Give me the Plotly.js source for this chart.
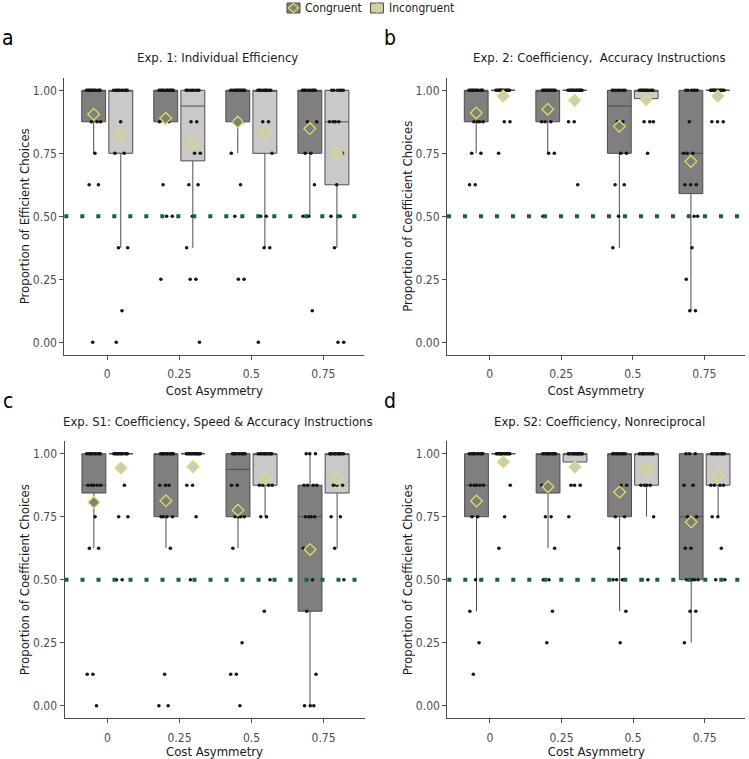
<!DOCTYPE html>
<html>
<head>
<meta charset="utf-8">
<script src="https://cdn.plot.ly/plotly-3.0.1.min.js"></script>
<style>html,body{margin:0;padding:0;background:#fff;}#chart{width:749px;height:759px;}</style>
</head>
<body>
<div id="chart"></div>
<script>
// ---------------- DATA ----------------
const costs = [0, 0.25, 0.5, 0.75];
const costLabels = ['0', '0.25', '0.5', '0.75'];
const panelLetters = ['a', 'b', 'c', 'd'];
const panelTitles = [
  'Exp. 1: Individual Efficiency',
  'Exp. 2: Coefficiency,\u00a0 Accuracy Instructions',
  'Exp. S1: Coefficiency, Speed & Accuracy Instructions',
  'Exp. S2: Coefficiency, Nonreciprocal'
];
const yTitles = [
  'Proportion of Efficient Choices',
  'Proportion of Coefficient Choices',
  'Proportion of Coefficient Choices',
  'Proportion of Coefficient Choices'
];
const xTitle = 'Cost Asymmetry';
const groupNames = ['Congruent', 'Incongruent'];

// box statistics per panel (a, b, c, d), per cost level
const conQ1   = [[0.875, 0.875, 0.875, 0.75], [0.875, 0.875, 0.75, 0.59], [0.844, 0.75, 0.75, 0.375], [0.75, 0.844, 0.75, 0.5]];
const conMed  = [[1, 1, 1, 1], [1, 1, 0.9375, 0.75], [0.875, 1, 0.9375, 0.75], [0.875, 1, 1, 0.75]];
const conQ3   = [[1, 1, 1, 1], [1, 1, 1, 1], [1, 1, 1, 0.875], [1, 1, 1, 1]];
const conLo   = [[0.75, 0.875, 0.75, 0.5], [0.75, 0.75, 0.375, 0.125], [0.625, 0.625, 0.625, 0], [0.375, 0.625, 0.375, 0.25]];
const conHi   = [[1, 1, 1, 1], [1, 1, 1, 1], [1, 1, 1, 1], [1, 1, 1, 1]];
const conMean = [[0.905, 0.889, 0.874, 0.848], [0.91, 0.925, 0.857, 0.718], [0.807, 0.813, 0.776, 0.62], [0.812, 0.869, 0.848, 0.729]];

const incQ1   = [[0.75, 0.72, 0.75, 0.625], [1, 1, 0.967, 1], [1, 1, 0.875, 0.844], [1, 0.967, 0.875, 0.875]];
const incMed  = [[1, 0.9375, 1, 0.875], [1, 1, 1, 1], [1, 1, 1, 1], [1, 1, 1, 1]];
const incQ3   = [[1, 1, 1, 1], [1, 1, 1, 1], [1, 1, 1, 1], [1, 1, 1, 1]];
const incLo   = [[0.375, 0.375, 0.375, 0.375], [1, 1, 0.967, 1], [1, 1, 0.75, 0.625], [1, 0.967, 0.75, 0.75]];
const incHi   = [[1, 1, 1, 1], [1, 1, 1, 1], [1, 1, 1, 1], [1, 1, 1, 1]];
const incMean = [[0.823, 0.791, 0.833, 0.749], [0.977, 0.96, 0.963, 0.977], [0.943, 0.948, 0.901, 0.901], [0.967, 0.947, 0.937, 0.911]];

// individual participants: [value, count] per cost level
const conDots = [
  [ [[1,12],[0.875,3],[0.75,1],[0.625,2],[0,1]],
    [[1,12],[0.875,3],[0.625,1],[0.5,2],[0.25,1]],
    [[1,12],[0.875,3],[0.75,1],[0.625,1],[0.5,1],[0.25,2]],
    [[1,10],[0.875,2],[0.75,2],[0.625,1],[0.5,2],[0.125,1]] ],
  [ [[1,12],[0.875,4],[0.75,2],[0.625,2]],
    [[1,12],[0.875,3],[0.75,2],[0.5,1]],
    [[1,8],[0.875,2],[0.75,2],[0.625,2],[0.5,1],[0.375,1]],
    [[1,6],[0.875,1],[0.75,3],[0.625,3],[0.5,3],[0.375,1],[0.25,1],[0.125,2]] ],
  [ [[1,10],[0.875,5],[0.75,1],[0.625,2],[0.125,2],[0,1]],
    [[1,10],[0.875,3],[0.75,4],[0.625,1],[0.125,1],[0,2]],
    [[1,10],[0.875,2],[0.75,4],[0.625,1],[0.25,1],[0.125,2],[0,1]],
    [[1,3],[0.875,4],[0.75,4],[0.625,1],[0.5,1],[0.375,1],[0.125,1],[0,3]] ],
  [ [[1,10],[0.875,5],[0.75,2],[0.5,2],[0.375,1],[0.25,1],[0.125,1]],
    [[1,10],[0.875,1],[0.75,2],[0.625,1],[0.5,2],[0.375,1],[0.25,1]],
    [[1,8],[0.875,2],[0.75,2],[0.625,1],[0.5,3],[0.375,1],[0.25,1]],
    [[1,3],[0.875,2],[0.75,2],[0.625,2],[0.5,5],[0.375,2],[0.25,1]] ]
];
const incDots = [
  [ [[1,10],[0.875,1],[0.75,2],[0.375,2],[0.125,1],[0,1]],
    [[1,8],[0.875,2],[0.75,2],[0.625,2],[0.5,1],[0.375,1],[0.25,2],[0,1]],
    [[1,10],[0.875,2],[0.75,1],[0.5,2],[0.375,2],[0,1]],
    [[1,6],[0.875,4],[0.75,1],[0.625,1],[0.5,2],[0.375,1],[0,2]] ],
  [ [[1,14],[0.875,2],[0.75,1]],
    [[1,14],[0.875,2],[0.625,1]],
    [[1,12],[0.875,3],[0.75,1]],
    [[1,14],[0.875,3]] ],
  [ [[1,12],[0.875,1],[0.75,2],[0.5,2]],
    [[1,14],[0.875,2],[0.75,1],[0.5,1]],
    [[1,10],[0.875,4],[0.75,2],[0.5,1],[0.375,1]],
    [[1,10],[0.875,3],[0.75,2],[0.625,1],[0.5,1]] ],
  [ [[1,14],[0.875,1],[0.75,1],[0.625,1]],
    [[1,12],[0.875,3],[0.75,1],[0.5,1]],
    [[1,10],[0.875,4],[0.75,1],[0.5,2]],
    [[1,10],[0.875,4],[0.75,2],[0.625,1],[0.5,2]] ]
];
const chanceLevel = 0.5;

// ---------------- STYLE / LAYOUT ----------------
const W = 749, H = 759;
const FONT = 'Liberation Sans Narrow, Arial Narrow, DejaVu Sans Condensed, sans-serif';
const CON_FILL = '#7f7f7f', INC_FILL = '#c9c9c9', BOX_LINE = '#4d4d4d';
const MEAN_LINE = '#e2dc5c', DOT = '#151515', GREEN = '#1b6531';
const DODGE = 0.047, BOXW = 0.083, JIT = 0.026;
const px = x => x / W, py = y => 1 - y / H;

// pixel geometry of the four panels
const panelX = [[64.3, 364.3], [447, 745], [64.5, 364.5], [447.3, 745.3]];
const panelY = [[77.7, 354.9], [77.7, 354.9], [441.1, 718.3], [441.1, 718.3]];

const traces = [];
const layout = {
  width: W, height: H,
  margin: {l: 0, r: 0, t: 0, b: 0},
  paper_bgcolor: '#fff', plot_bgcolor: '#fff',
  font: {family: FONT, color: '#1a1a1a'},
  showlegend: false,
  boxmode: 'overlay',
  shapes: [], annotations: []
};

function jitterDots(groups, sign, xa, ya) {
  const xs = [], ys = [];
  let k = 0;
  groups.forEach((grp, i) => {
    grp.forEach(([v, n]) => {
      for (let j = 0; j < n; j++) {
        const u = ((k * 0.6180339887 + 0.31) % 1) - 0.5;
        xs.push(costs[i] + sign * DODGE + u * 2 * JIT);
        ys.push(v);
        k++;
      }
    });
  });
  return {type: 'scatter', mode: 'markers', x: xs, y: ys, xaxis: xa, yaxis: ya,
    marker: {size: 3.6, color: DOT}, hoverinfo: 'skip', showlegend: false};
}

for (let p = 0; p < 4; p++) {
  const n = p + 1;
  const xa = 'x' + (n === 1 ? '' : n), ya = 'y' + (n === 1 ? '' : n);
  const xk = 'xaxis' + (n === 1 ? '' : n), yk = 'yaxis' + (n === 1 ? '' : n);
  const grpSpecs = [
    {sign: -1, fill: CON_FILL, q1: conQ1, med: conMed, q3: conQ3, lo: conLo, hi: conHi, mean: conMean, dots: conDots, name: groupNames[0]},
    {sign: 1, fill: INC_FILL, q1: incQ1, med: incMed, q3: incQ3, lo: incLo, hi: incHi, mean: incMean, dots: incDots, name: groupNames[1]}
  ];
  grpSpecs.forEach(g => {
    traces.push({
      type: 'box', name: g.name, xaxis: xa, yaxis: ya,
      x: costs.map(c => c + g.sign * DODGE),
      q1: g.q1[p], median: g.med[p], q3: g.q3[p],
      lowerfence: g.lo[p], upperfence: g.hi[p],
      width: BOXW, whiskerwidth: 0, boxpoints: false,
      fillcolor: g.fill, line: {color: BOX_LINE, width: 1},
      hoverinfo: 'skip', showlegend: false
    });
  });
  grpSpecs.forEach(g => traces.push(jitterDots(g.dots[p], g.sign, xa, ya)));
  grpSpecs.forEach(g => {
    traces.push({
      type: 'scatter', mode: 'markers', name: g.name, xaxis: xa, yaxis: ya,
      x: costs.map(c => c + g.sign * DODGE), y: g.mean[p],
      marker: {symbol: 'diamond', size: 9, color: g.fill, line: {color: MEAN_LINE, width: 1.3}},
      hoverinfo: 'skip', showlegend: false
    });
  });

  const xd = panelX[p], yd = panelY[p];
  layout[xk] = {
    domain: [px(xd[0]), px(xd[1])], anchor: ya,
    range: [-0.149, 0.892], tickvals: costs, ticktext: costLabels,
    ticks: 'outside', ticklen: 4, tickcolor: '#4d4d4d', tickwidth: 1,
    ticklabelstandoff: 4,
    showline: true, linecolor: '#4d4d4d', linewidth: 1,
    showgrid: false, zeroline: false, automargin: false,
    tickfont: {size: 12, color: '#4d4d4d', family: FONT},
    title: {text: xTitle, font: {size: 13, color: '#1a1a1a', family: FONT}, standoff: 5}
  };
  layout[yk] = {
    domain: [py(yd[1]), py(yd[0])], anchor: xa,
    range: [-0.05, 1.05], tickvals: [0, 0.25, 0.5, 0.75, 1], tickformat: '.2f',
    ticks: 'outside', ticklen: 4, tickcolor: '#4d4d4d', tickwidth: 1,
    showline: true, linecolor: '#4d4d4d', linewidth: 1,
    showgrid: false, zeroline: false, automargin: false,
    tickfont: {size: 12, color: '#4d4d4d', family: FONT},
    title: {text: yTitles[p], font: {size: 13, color: '#1a1a1a', family: FONT}, standoff: 0}
  };
  layout.shapes.push({
    type: 'line', xref: xa + ' domain', yref: ya, x0: 0, x1: 1, y0: chanceLevel, y1: chanceLevel,
    line: {color: GREEN, width: 4, dash: '4px,12px'}, layer: 'above'
  });
  // panel title
  layout.annotations.push({
    text: panelTitles[p], xref: 'paper', yref: 'paper',
    x: px((xd[0] + xd[1]) / 2 + 3), y: py(yd[0] - 20), xanchor: 'center', yanchor: 'middle',
    showarrow: false, font: {size: 13, color: '#1a1a1a', family: FONT}
  });
  // panel letter
  layout.annotations.push({
    text: panelLetters[p], xref: 'paper', yref: 'paper',
    x: px(p % 2 === 0 ? 8 : 390), y: py(yd[0] - 40), xanchor: 'center', yanchor: 'middle',
    showarrow: false, font: {size: 21, color: '#000', family: FONT}
  });
}

// legend (key drawn as boxplot key with mean diamond)
const legendKeys = [{x: 287, fill: CON_FILL}, {x: 370.5, fill: INC_FILL}];
legendKeys.forEach((k, i) => {
  layout.shapes.push({type: 'rect', xref: 'paper', yref: 'paper',
    x0: px(k.x), x1: px(k.x + 13), y0: py(13), y1: py(3),
    fillcolor: k.fill, line: {color: BOX_LINE, width: 1}});
  const cx = k.x + 6.5, cy = 8;
  layout.shapes.push({type: 'path', xref: 'paper', yref: 'paper',
    path: `M${px(cx - 5)},${py(cy)} L${px(cx)},${py(cy - 4.5)} L${px(cx + 5)},${py(cy)} L${px(cx)},${py(cy + 4.5)} Z`,
    fillcolor: k.fill, line: {color: MEAN_LINE, width: 1.3}});
  layout.annotations.push({text: groupNames[i], xref: 'paper', yref: 'paper',
    x: px(k.x + 16), y: py(8), xanchor: 'left', yanchor: 'middle', showarrow: false,
    font: {size: 12, color: '#1a1a1a', family: FONT}});
});

Plotly.newPlot('chart', traces, layout, {staticPlot: true, displayModeBar: false});
</script>
</body>
</html>
